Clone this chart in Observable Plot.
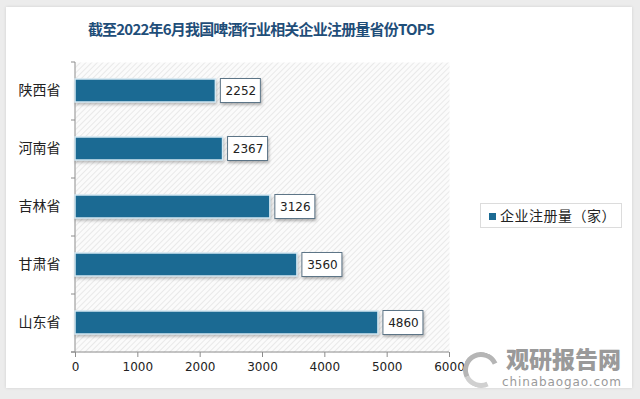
<!DOCTYPE html>
<html><head><meta charset="utf-8">
<script src="https://cdn.jsdelivr.net/npm/d3@7"></script>
<script src="https://cdn.jsdelivr.net/npm/@observablehq/plot@0.6"></script>
<style>
html,body{margin:0;padding:0;}
body{width:640px;height:399px;background:#ececec;position:relative;overflow:hidden;font-family:"Noto Sans CJK SC","Noto Sans",sans-serif;}
#card{position:absolute;left:6px;top:7px;width:626px;height:381px;background:#fff;box-shadow:0 0 3px rgba(0,0,0,0.12);}
#title{position:absolute;left:0;top:19px;width:522px;text-align:center;font-size:15px;line-height:20px;font-weight:bold;color:#1f4e79;letter-spacing:-0.8px;font-family:"Noto Sans CJK SC",sans-serif;}
#chart{position:absolute;left:0;top:45px;}
#legend{position:absolute;left:480px;top:203px;width:142px;height:25px;border:1px solid #dcdcdc;box-sizing:border-box;font-size:14px;color:#222;}
#legend .sw{position:absolute;left:8px;top:9px;width:7px;height:7px;background:#1b6a93;}
#legend .tx{position:absolute;left:19px;top:1px;line-height:20px;white-space:nowrap;letter-spacing:0.5px;}
#wm1{position:absolute;left:506px;top:346px;font-size:23px;line-height:25px;font-weight:900;color:#9a9a9a;white-space:nowrap;}
#wm2{position:absolute;left:502px;top:376px;font-size:12px;line-height:13px;color:#9a9a9a;letter-spacing:0.9px;font-family:"DejaVu Sans",sans-serif;white-space:nowrap;}
#logo{position:absolute;left:463px;top:352px;width:26px;height:26px;border-radius:50%;border:5px solid #b5b5b5;border-right-color:transparent;border-bottom-color:#d0d0d0;transform:rotate(20deg);}
g[aria-label="bar"] rect{filter:drop-shadow(1px 2px 1.5px rgba(0,0,0,0.25));}
.lbox rect{filter:drop-shadow(1px 2px 1.5px rgba(0,0,0,0.3));}
</style>
</head><body>
<div id="card"></div>
<div id="title">截至2022年6月我国啤酒行业相关企业注册量省份TOP5</div>
<div id="chart"></div>
<div id="legend"><div class="sw"></div><div class="tx">企业注册量（家）</div></div>
<div id="logo"></div>
<div id="wm1">观研报告网</div>
<div id="wm2">chinabaogao.com</div>
<script>
const provinces = ["陕西省", "河南省", "吉林省", "甘肃省", "山东省"];
const values = [2252, 2367, 3126, 3560, 4860];
const xTicks = [0, 1000, 2000, 3000, 4000, 5000, 6000];
const data = provinces.map((p, i) => ({province: p, value: values[i]}));

const defsMark = () => {
  const g = d3.create("svg:g");
  const pat = g.append("defs").append("pattern")
    .attr("id", "hatch").attr("patternUnits", "userSpaceOnUse")
    .attr("width", 4).attr("height", 4)
    .attr("patternTransform", "rotate(45)");
  pat.append("rect").attr("width", 4).attr("height", 4).attr("fill", "#fbfbfb");
  pat.append("line").attr("x1", 0).attr("y1", 0).attr("x2", 0).attr("y2", 4)
    .attr("stroke", "#e0e0e0").attr("stroke-width", 1.3);
  return g.node();
};

const axesMark = (index, scales, values, dims) => {
  const g = d3.create("svg:g").attr("stroke", "#8c8c8c").attr("fill", "none");
  const x0 = scales.x(0), x1 = scales.x(6000);
  const top = dims.marginTop, bottom = dims.height - dims.marginBottom;
  g.append("line").attr("x1", x0).attr("x2", x0).attr("y1", top).attr("y2", bottom);
  g.append("line").attr("x1", x0 - 4).attr("x2", x1).attr("y1", bottom).attr("y2", bottom);
  const step = (bottom - top) / provinces.length;
  for (let i = 0; i <= provinces.length; i++) {
    const yy = top + i * step;
    g.append("line").attr("x1", x0 - 4).attr("x2", x0).attr("y1", yy).attr("y2", yy);
  }
  return g.node();
};

const chart = Plot.plot({
  width: 640,
  height: 354,
  marginLeft: 75,
  marginRight: 191,
  marginTop: 17,
  marginBottom: 47,
  style: {background: "transparent", fontFamily: "DejaVu Sans, sans-serif", color: "#222"},
  x: {domain: [0, 6000], label: null},
  y: {domain: provinces, paddingInner: 0.6, paddingOuter: 0.3, label: null},
  marks: [
    defsMark,
    Plot.frame({fill: "url(#hatch)", stroke: null}),
    axesMark,
    Plot.axisX({ticks: xTicks, tickSize: 5, tickPadding: 5, fontSize: 12, tickFormat: d => String(d), stroke: "#8c8c8c", fill: "#222", label: null}),
    Plot.axisY({tickSize: 0, tickPadding: 15, fontSize: 14, fontFamily: "Noto Sans CJK SC, sans-serif", fill: "#222", label: null}),
    Plot.barX(data, {x: "value", y: "province", fill: "#1b6a93", stroke: "#d4e8f2", strokeWidth: 1.5}),
    Plot.rect(data, {x1: "value", x2: "value", y: "province", insetLeft: 5, insetRight: -45, insetTop: -0.5, insetBottom: -0.5, fill: "#fff", stroke: "#5d7587", strokeWidth: 1, className: "lbox"}),
    Plot.text(data, {x: "value", y: "province", text: d => String(d.value), dx: 25, fontSize: 12, fill: "#222"})
  ]
});
document.getElementById("chart").appendChild(chart);
</script>
</body></html>
